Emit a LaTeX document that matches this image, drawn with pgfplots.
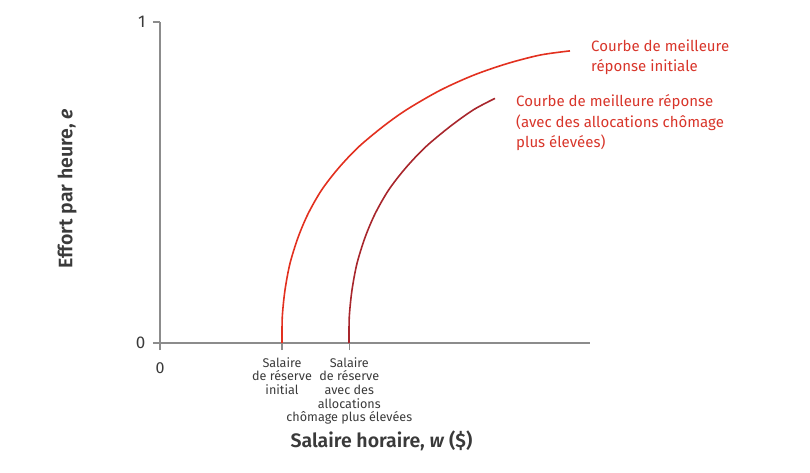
\documentclass[border=0pt]{standalone}
\usepackage{pgfplots}
\pgfplotsset{compat=1.18}
\usepackage{fontspec}
\setmainfont{Fira Sans}[BoldFont={Fira Sans SemiBold}, BoldItalicFont={Fira Sans SemiBold Italic}]

\definecolor{curveA}{HTML}{E2301F}
\definecolor{curveB}{HTML}{A8262C}
\definecolor{labred}{HTML}{D8352A}
\definecolor{axgray}{HTML}{8C8C8C}
\definecolor{txt}{HTML}{3A3A3A}

\begin{document}
\begin{tikzpicture}
\begin{axis}[
  scale only axis, width=430pt, height=321pt,
  xmin=0, xmax=430, ymin=0, ymax=1,
  axis x line=bottom, axis y line=left,
  axis line style={-, axgray, line width=1.4pt},
  clip=false,
  xtick={0,122,189.3}, ytick={0,1},
  tick align=outside, major tick length=7pt,
  tick style={axgray, line width=1.2pt},
  xticklabels={{\raisebox{-16pt}{\fontsize{16}{16}\selectfont 0}},
    {Salaire\\de réserve\\initial},
    {Salaire\\de réserve\\avec des\\allocations\\chômage plus élevées}},
  xticklabel style={align=center, font=\fontsize{12.6}{13.6}\selectfont, text=txt, yshift=-4pt},
  yticklabels={0,1},
  yticklabel style={font=\fontsize{17}{17}\selectfont, text=txt, xshift=-4pt},
  xlabel={\textbf{Salaire horaire, \textit{w} (\$)}},
  ylabel={\textbf{Effort par heure, \textit{e}}},
  every axis x label/.style={at={(axis description cs:0.515,-0.305)}, anchor=center, font=\fontsize{19.5}{19.5}\selectfont, text=txt},
  every axis y label/.style={at={(axis description cs:-0.216,0.48)}, anchor=center, rotate=90, font=\fontsize{19.5}{19.5}\selectfont, text=txt},
]
\addplot[curveA, line width=1.6pt, smooth] coordinates {
  (122,0) (122.3,0.082) (125,0.165) (130,0.248) (138.3,0.331)
  (148.3,0.404) (161.7,0.477) (178.3,0.544) (198.3,0.610) (223.3,0.675)
  (246.7,0.727) (280,0.787) (313.3,0.834) (346.7,0.870) (380,0.897)
  (410,0.910)
};
\addplot[curveB, line width=1.6pt, smooth] coordinates {
  (189,0) (189.3,0.082) (192,0.165) (197,0.248) (205.3,0.331)
  (215.3,0.404) (228.7,0.477) (245.3,0.544) (265.3,0.610) (290.3,0.675)
  (313.7,0.727) (335,0.762)
};
\node[anchor=north west, align=left, text=labred, inner sep=0pt,
  font=\fontsize{15}{20.5}\selectfont] at (axis cs:431,0.946)
  {Courbe de meilleure\\réponse initiale};
\node[anchor=north west, align=left, text=labred, inner sep=0pt,
  font=\fontsize{15}{20.5}\selectfont] at (axis cs:356,0.774)
  {Courbe de meilleure réponse\\(avec des allocations chômage\\plus élevées)};
\end{axis}
\path (current axis.south west) ++(-160pt,-129pt) rectangle ++(810pt,472pt);
\end{tikzpicture}
\end{document}
